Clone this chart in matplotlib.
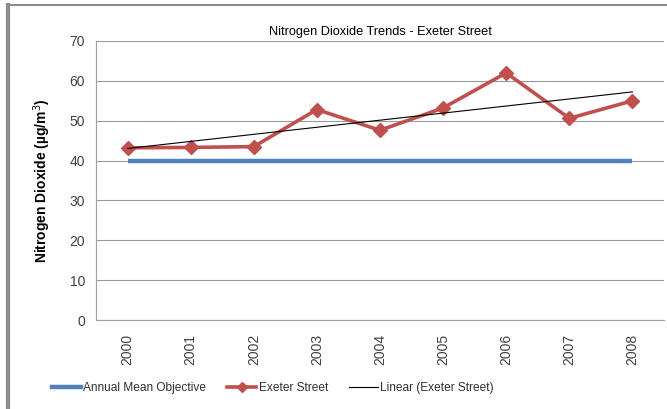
import matplotlib
matplotlib.use("Agg")
import matplotlib.pyplot as plt
import numpy as np
from matplotlib.lines import Line2D

plt.rcParams['font.family'] = ['Liberation Sans', 'DejaVu Sans']

years = ['2000', '2001', '2002', '2003', '2004', '2005', '2006', '2007', '2008']
exeter = [43.2, 43.3, 43.5, 52.8, 47.6, 53.2, 62.0, 50.6, 55.0]
objective = [40, 40, 40, 40, 40, 40, 40, 40, 40]

x = np.arange(len(years))
coef = np.polyfit(x, exeter, 1)
trend = np.polyval(coef, x)

fig = plt.figure(figsize=(6.67, 4.09), dpi=100)
W, H = 667, 409
ax = fig.add_axes([96 / W, 1 - 320 / H, (664 - 96) / W, (320 - 41) / H])

ax.plot(x, objective, color='#4F81BD', lw=3.2, solid_capstyle='butt', zorder=3)
ax.plot(x, exeter, color='#C0504D', lw=2.6, marker='D', markersize=7, zorder=4)
ax.plot(x, trend, color='black', lw=0.8, zorder=5)

ax.set_xlim(-0.5, len(years) - 0.5)
ax.set_ylim(0, 70)
ax.set_yticks(range(0, 71, 10))
ax.set_xticks(x)
ax.set_xticklabels(years, rotation=90)
ax.grid(axis='y', color='#999999', lw=0.8)
ax.set_axisbelow(True)
for s in ['top', 'right']:
    ax.spines[s].set_visible(False)
for s in ['left', 'bottom']:
    ax.spines[s].set_color('#a0a0a0')
ax.tick_params(axis='both', length=0, labelsize=10, colors='#404040', pad=8)
ax.tick_params(axis='x', pad=10)

ax.set_title('Nitrogen Dioxide Trends - Exeter Street', fontsize=9.2, pad=4)
ax.set_ylabel('Nitrogen Dioxide (µg/m$^3$)', fontsize=10, fontweight='bold', labelpad=12)

handles = [
    Line2D([], [], color='#4F81BD', lw=3.2),
    Line2D([], [], color='#C0504D', lw=2.6, marker='D', markersize=5),
    Line2D([], [], color='black', lw=0.8),
]
labels = ['Annual Mean Objective', 'Exeter Street', 'Linear (Exeter Street)']
fig.legend(handles, labels, loc='center', bbox_to_anchor=(273 / W, 1 - 388 / H),
           ncol=3, frameon=False, fontsize=8.6, handlelength=2.4, handletextpad=0.2,
           columnspacing=1.8, labelcolor='#303030')

# outer frame
fig.add_artist(Line2D([8 / W, 1], [1 - 5 / H, 1 - 5 / H], color='#8c8c8c', lw=1.5))
fig.add_artist(Line2D([8 / W, 8 / W], [1 - 5 / H, 0], color='#8c8c8c', lw=3))

fig.savefig('out.png', dpi=100)
